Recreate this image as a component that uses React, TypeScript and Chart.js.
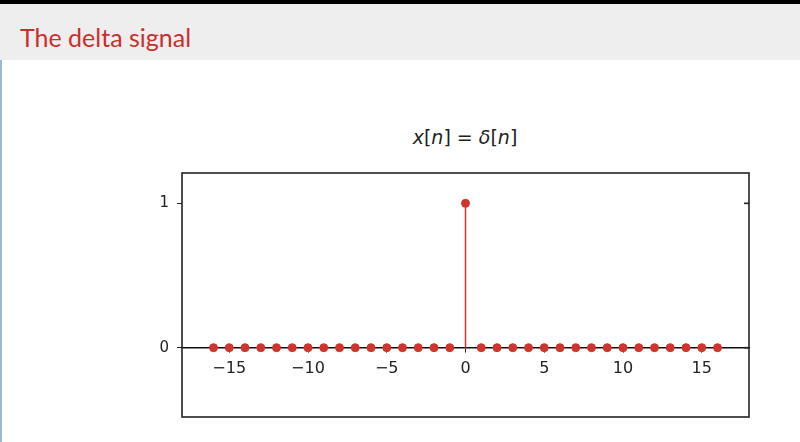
import { useEffect, useRef } from 'react';
import Chart from 'chart.js/auto';

// sample indices and delta values
const nValues = [-16, -15, -14, -13, -12, -11, -10, -9, -8, -7, -6, -5, -4, -3, -2, -1, 0, 1, 2, 3, 4, 5, 6, 7, 8, 9, 10, 11, 12, 13, 14, 15, 16];
const xValues = [0, 0, 0, 0, 0, 0, 0, 0, 0, 0, 0, 0, 0, 0, 0, 0, 1, 0, 0, 0, 0, 0, 0, 0, 0, 0, 0, 0, 0, 0, 0, 0, 0];
const xTicks = [-15, -10, -5, 0, 5, 10, 15];
const yTicks = [0, 1];

const RED = '#d0342c';

const framePlugin = {
  id: 'frame',
  afterDraw(chart: any) {
    const { ctx, chartArea: a } = chart;
    ctx.save();
    ctx.strokeStyle = '#222';
    ctx.lineWidth = 1.6;
    ctx.strokeRect(a.left, a.top, a.right - a.left, a.bottom - a.top);
    // small inward ticks on the right side
    const y = chart.scales.y;
    yTicks.forEach((v) => {
      const py = y.getPixelForValue(v);
      ctx.beginPath();
      ctx.moveTo(a.right, py);
      ctx.lineTo(a.right - 5, py);
      ctx.stroke();
    });
    ctx.restore();
  },
};

export default function App() {
  const chartRef = useRef<HTMLCanvasElement | null>(null);

  useEffect(() => {
    if (!chartRef.current) return;
    const points = nValues.map((n, i) => ({ x: n, y: xValues[i] }));
    const stems = nValues
      .map((n, i) => ({ n, v: xValues[i] }))
      .filter((s) => s.v !== 0);
    const stemSets = stems.map((s) => ({
      type: 'line' as const,
      data: [{ x: s.n, y: 0 }, { x: s.n, y: s.v }],
      borderColor: RED,
      borderWidth: 1.5,
      pointRadius: 0,
    }));
    const chart = new Chart(chartRef.current, {
      type: 'scatter',
      data: {
        datasets: [
          ...stemSets,
          {
            data: points,
            backgroundColor: RED,
            borderColor: RED,
            pointRadius: 4,
          },
        ],
      },
      options: {
        animation: false,
        responsive: false,
        layout: { padding: { left: 152, top: 173, right: 51, bottom: 25 } },
        plugins: { legend: { display: false }, tooltip: { enabled: false } },
        scales: {
          x: {
            type: 'linear',
            position: { y: 0 },
            min: -18,
            max: 18,
            afterBuildTicks: (s: any) => { s.ticks = xTicks.map((v) => ({ value: v })); },
            grid: { drawOnChartArea: false, drawTicks: true, tickLength: 4, color: '#222' },
            border: { color: '#111', width: 1.6 },
            ticks: {
              color: '#222',
              font: { family: 'DejaVu Sans', size: 16 },
              padding: 8,
              callback: (v: any) => (Number(v) < 0 ? '\u2212' + Math.abs(Number(v)) : String(v)),
            },
          },
          y: {
            min: -0.48,
            max: 1.21,
            afterBuildTicks: (s: any) => { s.ticks = yTicks.map((v) => ({ value: v })); },
            afterFit: (s: any) => { s.width = 30; },
            grid: { drawOnChartArea: false, drawTicks: true, tickLength: 5, color: '#222' },
            border: { display: false },
            ticks: { color: '#222', font: { family: 'DejaVu Sans', size: 15 }, padding: 8 },
          },
        },
      },
      plugins: [framePlugin],
    });
    return () => chart.destroy();
  }, []);

  return (
    <div style={{ position: 'fixed', left: 0, top: 0, width: 800, height: 442, background: '#fff', overflow: 'hidden' }}>
      <div style={{ position: 'absolute', left: 0, top: 0, width: 800, height: 4, background: '#000' }} />
      <div style={{ position: 'absolute', left: 0, top: 4, width: 800, height: 56, background: '#eeeeee' }} />
      <div style={{ position: 'absolute', left: 0, top: 60, width: 800, height: 382, borderLeft: '2px solid #9db4d8' }} />
      <div style={{ position: 'absolute', left: 20, top: 22, color: '#c8302c', fontFamily: 'Lato, "DejaVu Sans", sans-serif', fontSize: 25 }}>
        The delta signal
      </div>
      <div style={{ position: 'absolute', left: 0, width: 930, top: 126, textAlign: 'center', fontFamily: '"DejaVu Sans", sans-serif', fontSize: 19, color: '#222' }}>
        <i>x</i>[<i>n</i>] = <i>δ</i>[<i>n</i>]
      </div>
      <canvas ref={chartRef} width={800} height={442} style={{ position: 'absolute', left: 0, top: 0 }} />
    </div>
  );
}
